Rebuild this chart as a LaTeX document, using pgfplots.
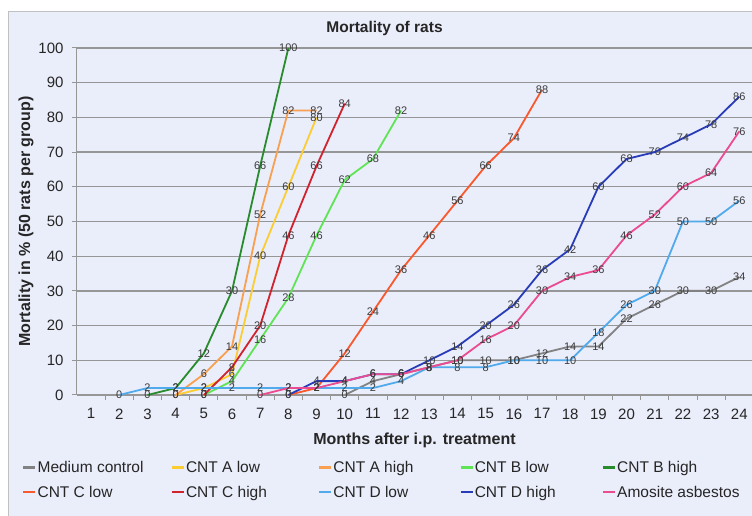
\documentclass[border=0pt]{standalone}
\usepackage{pgfplots}
\pgfplotsset{compat=1.18}
\usepackage{fontspec}
\setmainfont{Liberation Sans}
\definecolor{bg}{RGB}{234,237,250}
\definecolor{cMed}{RGB}{130,130,130}
\definecolor{cAlow}{RGB}{252,205,50}
\definecolor{cAhigh}{RGB}{248,160,80}
\definecolor{cBlow}{RGB}{95,228,85}
\definecolor{cBhigh}{RGB}{40,140,45}
\definecolor{cClow}{RGB}{250,88,45}
\definecolor{cChigh}{RGB}{208,35,45}
\definecolor{cDlow}{RGB}{80,170,235}
\definecolor{cDhigh}{RGB}{40,60,185}
\definecolor{cAmo}{RGB}{235,75,145}
\definecolor{gridc}{RGB}{150,150,150}
\definecolor{lbl}{RGB}{60,60,60}
\definecolor{txt}{RGB}{38,38,38}
\begin{document}
\begin{tikzpicture}[x=1pt,y=1pt]
\useasboundingbox (0,0) rectangle (752,516);
\fill[white] (0,0) rectangle (752,516);
\fill[bg] (8,0) rectangle (760,505);
\draw[gridc!60, line width=0.8pt] (8,0) -- (8,505) -- (760,505);
\begin{axis}[
  at={(77pt,121pt)}, anchor=south west, scale only axis,
  width=675pt, height=347pt,
  xmin=0.5, xmax=24.45, ymin=0, ymax=100,
  clip=false,
  axis x line=bottom, axis y line=left,
  axis line style={-, draw=gridc, line width=1pt},
  xtick={1,...,24}, ytick={0,10,...,100},
  minor x tick num=1,
  major x tick style={draw=none},
  minor x tick style={draw=gridc, line width=0.9pt},
  major y tick style={draw=gridc, line width=1pt},
  major tick length=5pt, minor tick length=5pt,
  tick align=outside,
  ymajorgrids,
  major grid style={draw=gridc, line width=1.3pt},
  tick label style={font=\fontsize{15}{15}\selectfont, text=txt},
  xticklabel style={yshift=-5pt},
  yticklabel style={xshift=-5pt},
  /pgf/number format/assume math mode=true,
  title={Mortality of rats},
  title style={at={(axis description cs:0.5,1)}, anchor=center, yshift=14pt, xshift=-30pt, font=\bfseries\fontsize{15.5}{15.5}\selectfont, text=txt},
  xlabel={Months after i.p. treatment},
  xlabel style={at={(axis description cs:0.5,0)}, anchor=center, yshift=-45pt, font=\bfseries\fontsize{16}{16}\selectfont, text=txt},
  ylabel={Mortality in \% (50 rats per group)},
  ylabel style={at={(axis description cs:0,0.5)}, anchor=center, yshift=51pt, font=\bfseries\fontsize{16}{16}\selectfont, text=txt},
  every axis plot/.append style={line width=1.8pt, no marks, line join=round},
  nodes near coords,
  nodes near coords align={center},
  every node near coord/.append style={anchor=center, font=\fontsize{11}{11}\selectfont, text=lbl, inner sep=0pt},
  legend columns=5,
  legend cell align=left,
  legend image code/.code={\draw[#1, line width=2.4pt] (0pt,0pt) -- (12pt,0pt);},
  legend style={at={(axis description cs:0,0)}, anchor=north west, xshift=-55pt, yshift=-64pt, draw=none, fill=none, inner sep=0pt, row sep=8pt, column sep=0pt, font=\fontsize{15.5}{15.5}\selectfont, nodes={inner xsep=1pt, inner ysep=2pt}},
]
\addplot[color=cMed] coordinates {(10,0)(11,4)(12,6)(13,8)(14,10)(15,10)(16,10)(17,12)(18,14)(19,14)(20,22)(21,26)(22,30)(23,30)(24,34)};
\addlegendentry{\makebox[132pt][l]{\textcolor{txt}{Medium control}}}
\addplot[color=cAlow] coordinates {(4,0)(5,2)(6,6)(7,40)(8,60)(9,80)};
\addlegendentry{\makebox[131pt][l]{\textcolor{txt}{CNT A low}}}
\addplot[color=cAhigh] coordinates {(4,0)(5,6)(6,14)(7,52)(8,82)(9,82)};
\addlegendentry{\makebox[125pt][l]{\textcolor{txt}{CNT A high}}}
\addplot[color=cBlow] coordinates {(5,0)(6,4)(7,16)(8,28)(9,46)(10,62)(11,68)(12,82)};
\addlegendentry{\makebox[126pt][l]{\textcolor{txt}{CNT B low}}}
\addplot[color=cBhigh] coordinates {(3,0)(4,2)(5,12)(6,30)(7,66)(8,100)};
\addlegendentry{\textcolor{txt}{CNT B high}}
\addplot[color=cClow] coordinates {(8,0)(9,2)(10,12)(11,24)(12,36)(13,46)(14,56)(15,66)(16,74)(17,88)};
\addlegendentry{\makebox[132pt][l]{\textcolor{txt}{CNT C low}}}
\addplot[color=cChigh] coordinates {(5,0)(6,8)(7,20)(8,46)(9,66)(10,84)};
\addlegendentry{\makebox[131pt][l]{\textcolor{txt}{CNT C high}}}
\addplot[color=cDlow] coordinates {(2,0)(3,2)(4,2)(5,2)(6,2)(7,2)(8,2)(9,2)(10,2)(11,2)(12,4)(13,8)(14,8)(15,8)(16,10)(17,10)(18,10)(19,18)(20,26)(21,30)(22,50)(23,50)(24,56)};
\addlegendentry{\makebox[125pt][l]{\textcolor{txt}{CNT D low}}}
\addplot[color=cDhigh] coordinates {(8,0)(9,4)(10,4)(11,6)(12,6)(13,10)(14,14)(15,20)(16,26)(17,36)(18,42)(19,60)(20,68)(21,70)(22,74)(23,78)(24,86)};
\addlegendentry{\makebox[126pt][l]{\textcolor{txt}{CNT D high}}}
\addplot[color=cAmo] coordinates {(7,0)(8,2)(9,2)(10,4)(11,6)(12,6)(13,8)(14,10)(15,16)(16,20)(17,30)(18,34)(19,36)(20,46)(21,52)(22,60)(23,64)(24,76)};
\addlegendentry{\textcolor{txt}{Amosite asbestos}}
\end{axis}
\end{tikzpicture}
\end{document}
